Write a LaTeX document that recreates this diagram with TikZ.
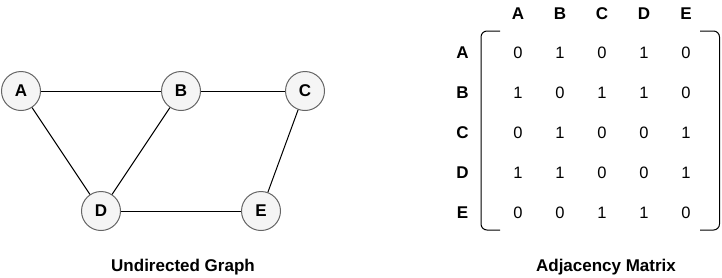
\documentclass[tikz,border=0pt]{standalone}
\usepackage{fontspec}
\setmainfont{Liberation Sans}
\begin{document}
\begin{tikzpicture}[x=1pt,y=-1pt,
  vert/.style={circle,draw=black!60,fill=black!4,line width=1pt,minimum size=39pt,inner sep=0pt,font=\fontsize{17}{19}\selectfont\bfseries},
  edge/.style={line width=1pt,draw=black},
  lbl/.style={font=\fontsize{17}{19}\selectfont\bfseries,inner sep=0pt},
  val/.style={font=\fontsize{16.5}{18}\selectfont,inner sep=0pt},
  title/.style={font=\fontsize{17}{19}\selectfont\bfseries,inner sep=0pt},
  brk/.style={line width=1pt,draw=black,rounded corners=6pt}]
\useasboundingbox (0,0) rectangle (722,277);
\node[vert] (A) at (21,91) {A};
\node[vert] (B) at (181,91) {B};
\node[vert] (C) at (305,91) {C};
\node[vert] (D) at (101,211) {D};
\node[vert] (E) at (261,211) {E};
\draw[edge] (A) -- (B);
\draw[edge] (B) -- (C);
\draw[edge] (A) -- (D);
\draw[edge] (B) -- (D);
\draw[edge] (D) -- (E);
\draw[edge] (C) -- (E);
\node[title] (t1) at (183,267) {Undirected Graph};
\node[title] (t2) at (606,267) {Adjacency Matrix};
% column headers
\foreach \n/\x in {A/518,B/560,C/602,D/644,E/686}
  \node[lbl] (h\n) at (\x,14) {\n};
% row labels
\foreach \n/\y in {A/53,B/93,C/133,D/173,E/213}
  \node[lbl] (r\n) at (462.5,\y) {\n};
% values
\foreach \row/\y/\vals in {1/53/{0,1,0,1,0},2/93/{1,0,1,1,0},3/133/{0,1,0,0,1},4/173/{1,1,0,0,1},5/213/{0,0,1,1,0}}{
  \foreach \v [count=\c] in \vals {
    \pgfmathsetmacro{\xx}{476+42*\c}
    \node[val] (m\row\c) at (\xx,\y) {\v};
  }
}
% brackets
\draw[brk] (500,31) -- (481,31) -- (481,230) -- (500,230);
\draw[brk] (700,31) -- (719.5,31) -- (719.5,230) -- (700,230);
\end{tikzpicture}
\end{document}
